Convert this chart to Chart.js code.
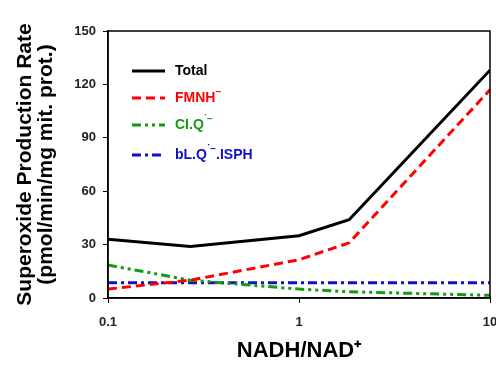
<!DOCTYPE html>
<html>
<head>
<meta charset="utf-8">
<script src="https://cdn.jsdelivr.net/npm/chart.js@4"></script>
<style>
  html, body { margin: 0; padding: 0; background: #fff; }
  #wrap { width: 496px; height: 365px; }
</style>
</head>
<body>
<div id="wrap"><canvas id="myChart" width="496" height="365"></canvas></div>
<script>
// values
const ratios = [0.1, 0.27, 1, 1.83, 10];
const totalRate = [33, 29, 35, 44, 128];
const fmnhRate = [5, 10, 21.5, 31, 117];
const clqRate = [18.5, 10, 5, 3.5, 1.5];
const blqRate = [8.5, 8.5, 8.5, 8.5, 8.5];
const seriesLabels = ['Total', 'FMNH^\u2212', 'CI.Q^\u02D9\u2212', 'bL.Q^\u02D9\u2212^.ISPH'];
const xTicks = [0.1, 1, 10];
const yTicks = [0, 30, 60, 90, 120, 150];

const FONT = "'Liberation Sans', Arial, sans-serif";

function pts(ys) {
  return ratios.map((x, i) => ({x: x, y: ys[i]}));
}

// frame round the plot (top + right sides)
const frame = {
  id: 'frame',
  afterDraw(chart) {
    const a = chart.chartArea, c = chart.ctx;
    c.save();
    c.strokeStyle = '#000';
    c.lineWidth = 1.5;
    c.strokeRect(a.left, a.top, a.right - a.left, a.bottom - a.top);
    c.restore();
  }
};

// legend drawn inside the plot, top left
const legendRows = [40, 67, 94, 124];
const innerLegend = {
  id: 'innerLegend',
  afterDraw(chart) {
    const a = chart.chartArea, c = chart.ctx;
    chart.data.datasets.forEach((ds, i) => {
      const y = a.top + legendRows[i];
      c.save();
      c.strokeStyle = ds.borderColor;
      c.lineWidth = ds.borderWidth;
      c.setLineDash(ds.borderDash || []);
      c.beginPath();
      c.moveTo(a.left + 24, y);
      c.lineTo(a.left + 57, y);
      c.stroke();
      c.setLineDash([]);
      c.fillStyle = ds.borderColor;
      c.textBaseline = 'middle';
      let x = a.left + 67;
      ds.label.split('^').forEach((part, k) => {
        const sup = k % 2 === 1;
        c.font = 'bold ' + (sup ? 10 : 14) + 'px ' + FONT;
        c.fillText(part, x, sup ? y - 6 : y);
        x += c.measureText(part).width;
      });
      c.restore();
    });
  }
};

const config = {
  type: 'line',
  data: {
    datasets: [{
      label: seriesLabels[0],
      data: pts(totalRate),
      borderColor: '#000000',
      borderWidth: 3
    }, {
      label: seriesLabels[1],
      data: pts(fmnhRate),
      borderColor: '#ff0000',
      borderWidth: 3,
      borderDash: [9, 5]
    }, {
      label: seriesLabels[2],
      data: pts(clqRate),
      borderColor: '#139a13',
      borderWidth: 3,
      borderDash: [9, 4, 3, 4, 3, 4]
    }, {
      label: seriesLabels[3],
      data: pts(blqRate),
      borderColor: '#1010c8',
      borderWidth: 3,
      borderDash: [9, 4, 3, 4]
    }]
  },
  options: {
    responsive: false,
    animation: false,
    layout: { padding: { left: 0, right: 6, top: 31, bottom: 0 } },
    elements: { point: { radius: 0 }, line: { tension: 0 } },
    plugins: { legend: { display: false }, tooltip: { enabled: false } },
    scales: {
      x: {
        type: 'logarithmic',
        min: 0.1,
        max: 10,
        afterBuildTicks: s => { s.ticks = xTicks.map(v => ({value: v})); },
        afterFit: s => { s.height = 67; s.paddingRight = 0; s.paddingLeft = 0; },
        grid: { drawOnChartArea: false, tickLength: 5, color: '#000', lineWidth: 1 },
        border: { display: true, color: '#000', width: 1.5 },
        ticks: {
          autoSkip: false,
          maxRotation: 0,
          padding: 12,
          color: '#222',
          font: { family: FONT, size: 13, weight: 'bold' },
          callback: v => String(v)
        },
        title: {
          display: true,
          text: 'NADH/NAD\u207A',
          color: '#000',
          font: { family: FONT, size: 22, weight: 'bold' },
          padding: { top: 0, bottom: 1 }
        }
      },
      y: {
        min: 0,
        max: 150,
        afterBuildTicks: s => { s.ticks = yTicks.map(v => ({value: v})); },
        afterFit: s => { s.width = 108; },
        grid: { drawOnChartArea: false, tickLength: 5, color: '#000', lineWidth: 1 },
        border: { display: true, color: '#000', width: 1.5 },
        ticks: {
          padding: 7,
          color: '#222',
          font: { family: FONT, size: 13, weight: 'bold' }
        },
        title: {
          display: true,
          text: ['Superoxide Production Rate', '(pmol/min/mg mit. prot.)'],
          color: '#000',
          font: { family: FONT, size: 21, weight: 'bold', lineHeight: 1.0 },
          padding: { top: 15, bottom: 15 }
        }
      }
    }
  },
  plugins: [frame, innerLegend]
};

const ctx = document.getElementById('myChart').getContext('2d');
new Chart(ctx, config);
</script>
</body>
</html>
